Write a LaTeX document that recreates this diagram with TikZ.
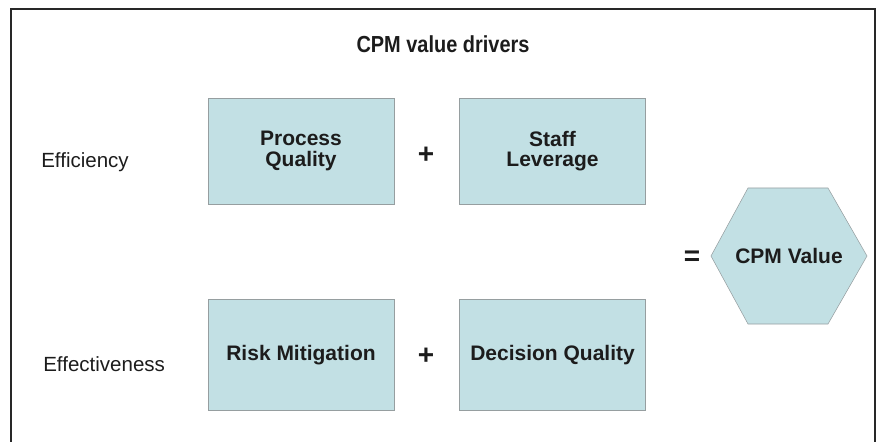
\documentclass[tikz,border=0pt]{standalone}
\usepackage{fontspec}
\setmainfont{Liberation Sans}
\newfontfamily\narrowfont[FakeStretch=0.86]{Liberation Sans}
\usetikzlibrary{positioning, calc}

\definecolor{boxfill}{RGB}{194,224,228}
\definecolor{boxline}{RGB}{150,158,160}
\definecolor{inkdark}{RGB}{28,28,28}
\definecolor{framegray}{RGB}{40,40,40}

\begin{document}
\begin{tikzpicture}[
    x=0.75pt, y=-0.75pt,
    node distance=48.75pt,
    driver/.style={draw=boxline, fill=boxfill, align=center, inner sep=0pt,
        minimum width=139.5pt, minimum height=79.5pt, text=inkdark,
        font=\fontsize{15.75}{15.5}\selectfont\bfseries},
    rowlabel/.style={anchor=west, inner sep=0pt, text=inkdark,
        font=\fontsize{15.4}{18}\selectfont},
    operator/.style={inner sep=0pt, text=inkdark,
        font=\fontsize{21}{22}\selectfont\bfseries}
]
\useasboundingbox (0,0) rectangle (879,442);

% Frame (open at the bottom)
\draw[framegray, line width=1.5pt] (11,442) -- (11,9) -- (875,9) -- (875,442);

% Title
\node (title) at (443,44) [inner sep=0pt, text=inkdark,
    font=\narrowfont\fontsize{17.4}{18}\selectfont\bfseries] {CPM value drivers};

% Row labels
\node (efficiency) [rowlabel] at (41,162) {Efficiency};
\node (effectiveness) [rowlabel] at (43,364) {Effectiveness};

% Nodes
\node (process_q) [driver] at (301,151) {Process\\Quality};
\node (staff_lev) [driver, right=of process_q] {Staff\\Leverage};
\node (risk_mit) [driver, minimum height=83.25pt] at (301,355) {Risk Mitigation};
\node (decision_q) [driver, minimum height=83.25pt, right=of risk_mit] {Decision Quality};

% Result hexagon
\filldraw[draw=boxline, fill=boxfill]
    (711,256) -- (748,188) -- (828,188) -- (867,256) -- (828,324) -- (748,324) -- cycle;
\node (cpm_value) at (789,256) [inner sep=0pt, text=inkdark,
    font=\fontsize{15.75}{18}\selectfont\bfseries] {CPM Value};

% Operators
\node (plus_top) [operator] at (426,155) {+};
\node (plus_bot) [operator] at (426,356) {+};
\node (equals) [operator] at (692,258) {=};

\end{tikzpicture}
\end{document}
